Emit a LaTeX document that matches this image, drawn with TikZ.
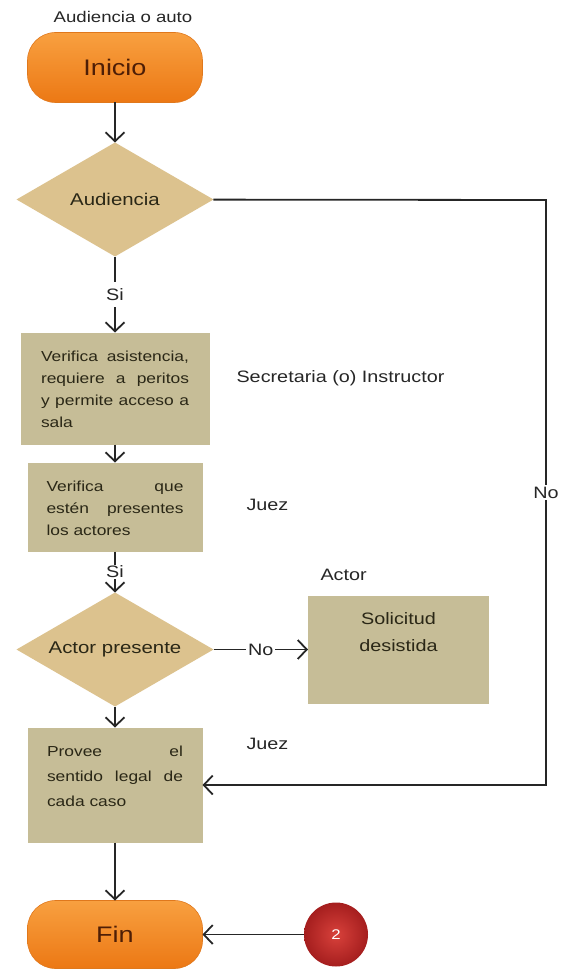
\documentclass[tikz,border=0pt]{standalone}
\usepackage{fontspec}
\setmainfont{Liberation Sans}[FakeStretch=1.2]
\usetikzlibrary{positioning, shapes.geometric, arrows.meta}
\definecolor{PillTop}{HTML}{F8A040}
\definecolor{PillBot}{HTML}{EC7814}
\definecolor{PillEdge}{HTML}{E0781C}
\definecolor{PillText}{HTML}{4E1E06}
\definecolor{BoxFill}{HTML}{C6BD97}
\definecolor{DiamFill}{HTML}{DCC28E}
\definecolor{InkDark}{HTML}{2A2716}
\definecolor{LineGray}{HTML}{262626}
\definecolor{CircIn}{HTML}{D8413B}
\definecolor{CircOut}{HTML}{A51E1E}

\begin{document}
\begin{tikzpicture}[x=1pt, y=-1pt,
		node distance=40pt,
		pill/.style={
			rectangle,
			rounded corners=28pt,
			top color=PillTop,
			bottom color=PillBot,
			draw=PillEdge,
			line width=0.6pt,
			minimum width=175pt,
			minimum height=70pt,
			outer sep=0pt,
			text=PillText,
			font=\fontsize{22.5pt}{26pt}\selectfont
		},
		decision/.style={
			diamond,
			aspect=1.73,
			fill=DiamFill,
			minimum width=197pt,
			minimum height=114pt,
			inner sep=0pt,
			outer sep=0pt,
			text=InkDark,
			font=\fontsize{17pt}{20pt}\selectfont
		},
		stepbox/.style={
			rectangle,
			fill=BoxFill,
			minimum width=175pt,
			inner ysep=0pt,
			outer sep=0pt,
			text height=29pt,
			align=justify,
			text=InkDark,
			font=\fontsize{14.5pt}{22pt}\selectfont
		},
		badge/.style={
			circle,
			shading=radial,
			inner color=CircIn,
			outer color=CircOut,
			minimum size=64pt,
			outer sep=0pt,
			text=white,
			font=\fontsize{14pt}{16pt}\selectfont
		},
		role/.style={
			anchor=west,
			text=LineGray,
			font=\fontsize{16.5pt}{20pt}\selectfont
		},
		tag/.style={
			fill=white,
			inner sep=2pt,
			text=LineGray,
			font=\fontsize{16.5pt}{20pt}\selectfont
		},
		arrow/.style={
			-{Straight Barb[length=9pt, width=19pt]},
			line width=1.8pt,
			draw=LineGray
		}
		]
		\useasboundingbox (0,0) rectangle (563,973);
		\node[text=LineGray, font=\fontsize{15.5pt}{18pt}\selectfont] (title) at (123,17) {Audiencia o auto};
		\node[pill] (inicio) at (115,67.5) {Inicio};
		\node[decision, below=40pt of inicio] (aud) {Audiencia};
		\node[stepbox, below=76pt of aud, minimum width=189pt, text width=148pt, text depth=83pt] (verif) {Verifica asistencia,\linebreak requiere a peritos\linebreak y permite acceso a\linebreak sala};
		\node[stepbox, below=18pt of verif, text width=137pt, text depth=60pt] (pres) {Verifica que\linebreak estén presentes\linebreak los actores};
		\node[decision, below=41pt of pres] (actor) {Actor presente};
		\node[stepbox, below=21pt of actor, text width=136pt, text depth=86pt, font=\fontsize{14.5pt}{25pt}\selectfont] (provee) {Provee el\linebreak sentido legal de\linebreak cada caso};
		\node[pill, below=58pt of provee, minimum height=68pt] (fin) {Fin};
		\node[stepbox, right=94.5pt of actor, minimum width=181pt, text width=150pt, align=center, text depth=79pt, font=\fontsize{16.5pt}{27pt}\selectfont] (desist) {Solicitud\\desistida};
		\node[badge, right=101.5pt of fin] (two) {2};
		\node[role] (secre) at (233,378) {Secretaria (o) Instructor};
		\node[role] (juezA) at (243,505) {Juez};
		\node[role] (actorlbl) at (317,575) {Actor};
		\node[role] (juezB) at (243,744) {Juez};
		\coordinate (turn) at (546,200);
		\draw[arrow] (inicio) -- (aud);
		\draw[arrow] (aud) -- node[tag, inner ysep=6pt] {Si} (verif);
		\draw[arrow] (verif) -- (pres);
		\draw[arrow] (pres) -- node[tag, inner ysep=1pt] {Si} (actor);
		\draw[arrow] (actor) -- node[tag] {No} (desist);
		\draw[arrow] (actor) -- (provee);
		\draw[arrow] (provee) -- (fin);
		\draw[arrow] (two) -- (fin);
		\draw[arrow] (aud) -- (turn) |- node[tag, pos=0.25] {No} (provee);
	\end{tikzpicture}
\end{document}
